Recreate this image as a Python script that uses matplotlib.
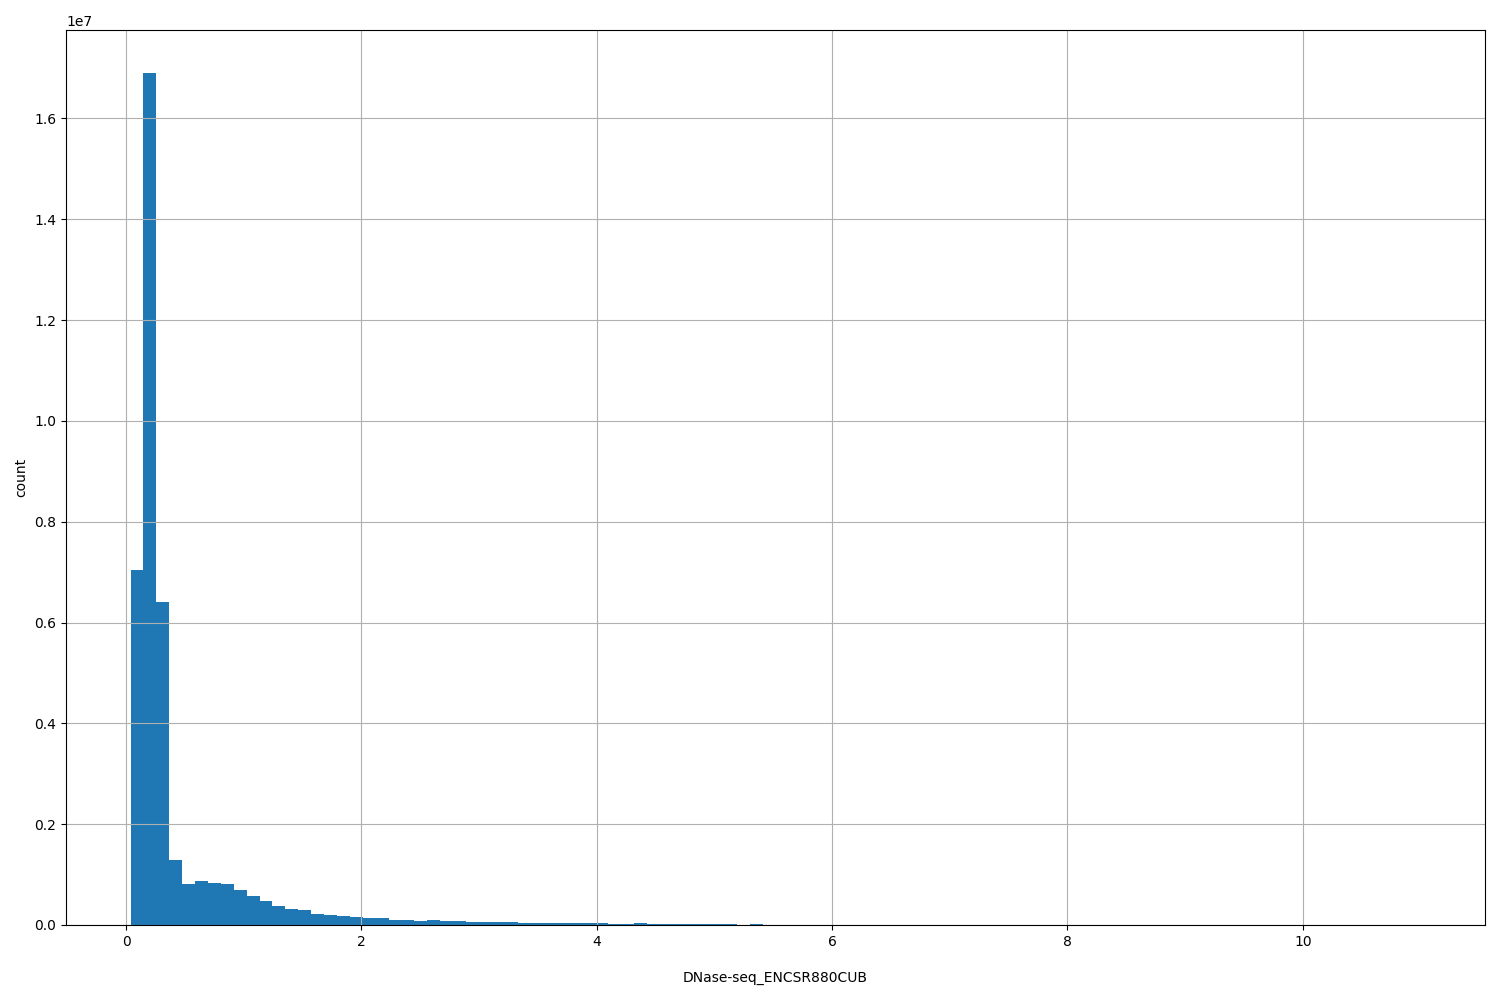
import matplotlib
matplotlib.use("Agg")
import matplotlib.pyplot as plt
import numpy as np

x_min = 0.038
x_max = 11.0
n_bins = 100

counts = [
    7.05e6, 16.91e6, 6.41e6, 1.29e6, 0.81e6, 0.87e6, 0.83e6, 0.81e6, 0.69e6, 0.576e6,
    0.476e6, 0.377e6, 0.318e6, 0.298e6, 0.218e6, 0.200e6, 0.180e6, 0.150e6, 0.140e6, 0.135e6,
    0.100e6, 0.100e6, 0.080e6, 0.095e6, 0.080e6, 0.075e6, 0.060e6, 0.058e6, 0.056e6, 0.055e6,
    0.045e6, 0.044e6, 0.042e6, 0.040e6, 0.040e6, 0.038e6, 0.040e6, 0.025e6, 0.022e6, 0.038e6,
    0.022e6, 0.020e6, 0.020e6, 0.018e6, 0.018e6, 0.017e6, 0.016e6, 0.006e6, 0.022e6, 4000,
    3500, 3000, 2600, 2300, 2000, 1800, 1500, 1300, 1100, 1000,
    900, 800, 700, 600, 550, 500, 450, 400, 350, 300,
    280, 250, 220, 200, 180, 160, 140, 120, 100, 90,
    80, 70, 60, 50, 45, 40, 35, 30, 25, 20,
    18, 15, 12, 10, 8, 6, 5, 4, 3, 2,
]

xlabel = "DNase-seq_ENCSR880CUB"
ylabel = "count"

edges = np.linspace(x_min, x_max, n_bins + 1)

fig = plt.figure(figsize=(15, 10), dpi=100)
ax = fig.add_axes([0.044, 0.075, 0.946, 0.895])
ax.hist(edges[:-1], bins=edges, weights=counts, color="#1f77b4")
ax.grid(True)
ax.set_xlabel(xlabel, labelpad=16)
ax.set_ylabel(ylabel)
fig.savefig("out.png", dpi=100)
